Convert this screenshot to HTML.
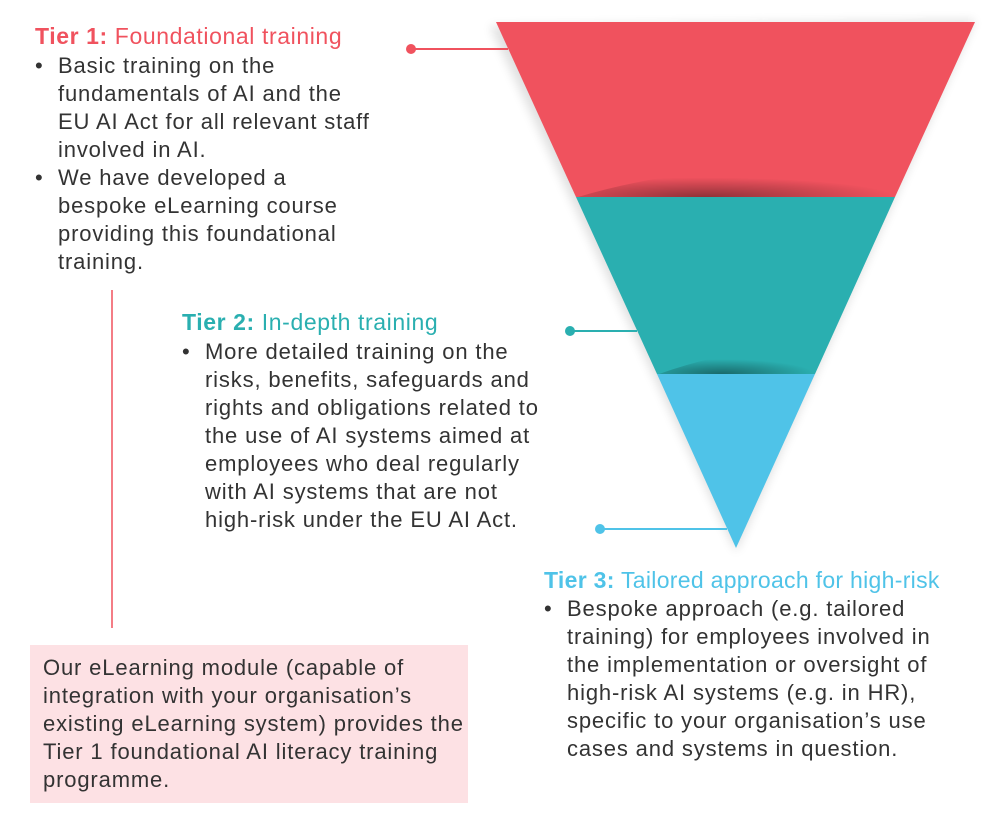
<!DOCTYPE html>
<html><head><meta charset="utf-8"><style>
body{margin:0;width:983px;height:815px;background:#fff;position:relative;overflow:hidden;font-family:"Liberation Sans",sans-serif;color:#333;}
.h{position:absolute;font-size:23px;line-height:28px;white-space:nowrap;letter-spacing:0.6px}
.b{position:absolute;font-size:22px;line-height:28px;color:#333;letter-spacing:0.85px;white-space:nowrap}
ul{margin:0;padding:0;list-style:none}
li{position:relative;padding-left:23px}
li:before{content:"•";position:absolute;left:0;}
</style></head><body>
<svg width="983" height="815" style="position:absolute;left:0;top:0">
<defs>
<filter id="sh" x="-10%" y="-10%" width="120%" height="120%"><feGaussianBlur stdDeviation="5"/></filter>
<radialGradient id="g1" cx="0.4" cy="1" r="0.6"><stop offset="0" stop-color="#000" stop-opacity="0.4"/><stop offset="1" stop-color="#000" stop-opacity="0"/></radialGradient>
</defs>
<polygon points="490,26 975,20 736,552" fill="#000" opacity="0.12" filter="url(#sh)"/>
<polygon points="496,22 975,22 895,197 576,197" fill="#f0525e"/>
<path d="M578,197 Q700,160 885,165 L895,197 Z" fill="url(#g1)"/>
<polygon points="576,197 895,197 815,374 657,374" fill="#2aafb0"/>
<path d="M659,374 Q740,345 810,350 L815,374 Z" fill="url(#g1)"/>
<polygon points="657,374 815,374 736,548" fill="#4fc3e8"/>
<line x1="411" y1="49" x2="508" y2="49" stroke="#f0525e" stroke-width="2"/>
<circle cx="411" cy="49" r="5" fill="#f0525e"/>
<line x1="570" y1="331" x2="637" y2="331" stroke="#2aafb0" stroke-width="2"/>
<circle cx="570" cy="331" r="5" fill="#2aafb0"/>
<line x1="600" y1="529" x2="727" y2="529" stroke="#4fc3e8" stroke-width="2"/>
<circle cx="600" cy="529" r="5" fill="#4fc3e8"/>
<line x1="112" y1="290" x2="112" y2="628" stroke="#f0525e" stroke-width="1.5"/>
</svg>
<div class="h" style="left:35px;top:22px;color:#f0525e"><b>Tier 1:</b> Foundational training</div>
<div class="b" style="left:35px;top:52px"><ul>
<li>Basic training on the<br>fundamentals of AI and the<br>EU AI Act for all relevant staff<br>involved in AI.</li>
<li>We have developed a<br>bespoke eLearning course<br>providing this foundational<br>training.</li></ul></div>
<div class="h" style="left:182px;top:308px;color:#2aafb0"><b>Tier 2:</b> In-depth training</div>
<div class="b" style="left:182px;top:338px"><ul>
<li>More detailed training on the<br>risks, benefits, safeguards and<br>rights and obligations related to<br>the use of AI systems aimed at<br>employees who deal regularly<br>with AI systems that are not<br>high-risk under the EU AI Act.</li></ul></div>
<div class="h" style="left:544px;top:566px;color:#4fc3e8;letter-spacing:0.3px"><b>Tier 3:</b> Tailored approach for high-risk</div>
<div class="b" style="left:544px;top:595px"><ul>
<li>Bespoke approach (e.g. tailored<br>training) for employees involved in<br>the implementation or oversight of<br>high-risk AI systems (e.g. in HR),<br>specific to your organisation’s use<br>cases and systems in question.</li></ul></div>
<div style="position:absolute;left:30px;top:645px;width:438px;height:158px;background:#fde1e4"></div>
<div class="b" style="left:43px;top:654px">Our eLearning module (capable of<br>integration with your organisation’s<br>existing eLearning system) provides the<br>Tier 1 foundational AI literacy training<br>programme.</div>
</body></html>
